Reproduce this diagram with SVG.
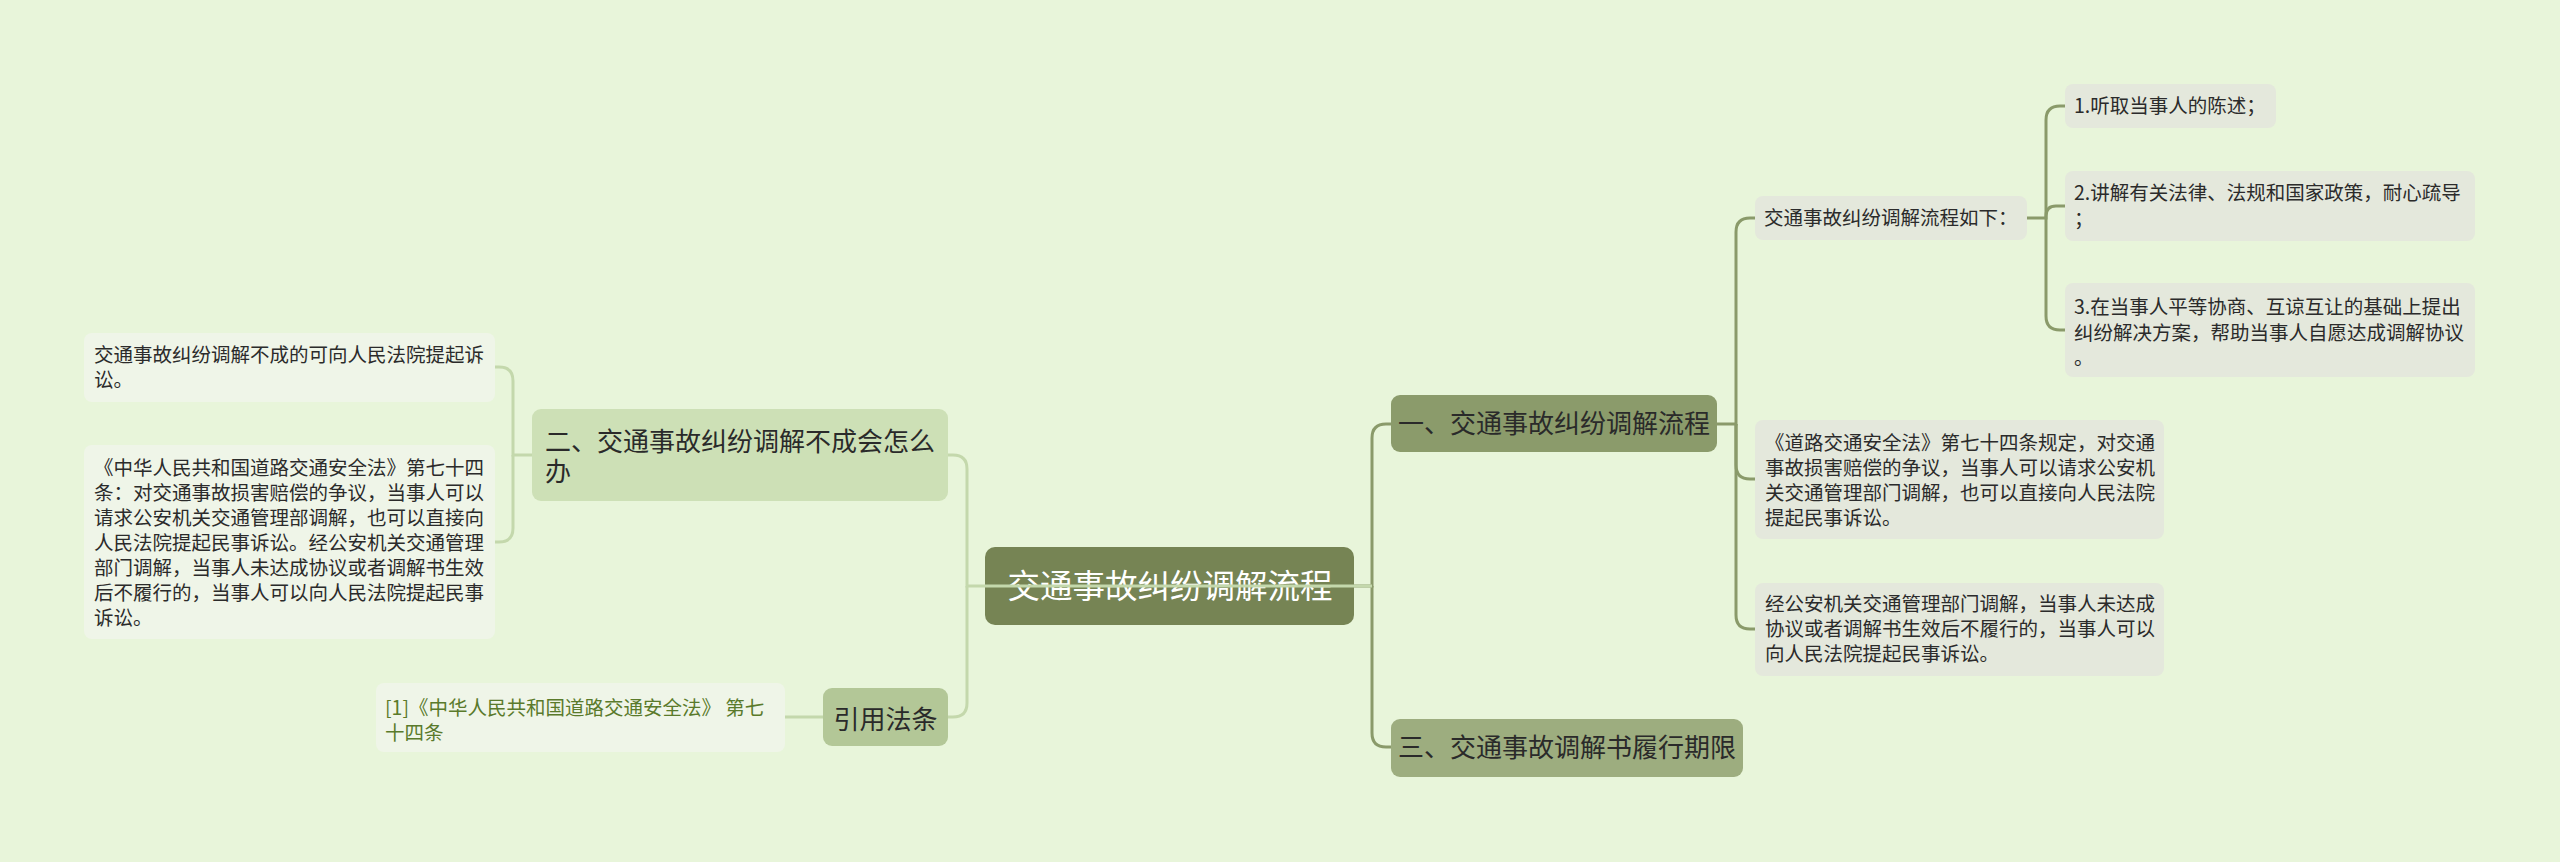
<svg xmlns="http://www.w3.org/2000/svg" width="2560" height="862" viewBox="0 0 2560 862">
<style>
text{font-family:"Noto Sans CJK SC","Noto Sans",sans-serif;}
.leaf{font-size:19.5px;fill:#2b2b2b;}
.l1{font-size:26px;fill:#2a2a2a;}
.rl{fill:#e4e8dc;}
.ll{fill:#eff5e8;}
.cd{fill:none;stroke:#8a9a6a;stroke-width:3;}
.cl{fill:none;stroke:#c4d8ac;stroke-width:3;}
</style>
<rect width="2560" height="862" fill="#e8f5da"/>
<g id="root">
<rect x="985" y="547" width="369" height="78" rx="10" fill="#768454"/>
<text x="1170" y="598" font-size="32.5" fill="#ffffff" text-anchor="middle">交通事故纠纷调解流程</text>
</g>
<g id="n1">
<rect x="1391" y="395" width="326" height="57" rx="9" fill="#8b9b6b"/>
<text class="l1" x="1554" y="433" text-anchor="middle">一、交通事故纠纷调解流程</text>
</g>
<g id="n3">
<rect x="1391" y="719" width="352" height="58" rx="9" fill="#9dad7f"/>
<text class="l1" x="1567" y="757" text-anchor="middle">三、交通事故调解书履行期限</text>
</g>
<g id="n2">
<rect x="532" y="409" width="416" height="92" rx="9" fill="#cde0b6"/>
<text class="l1" x="545" y="451">二、交通事故纠纷调解不成会怎么</text>
<text class="l1" x="545" y="481">办</text>
</g>
<g id="n4">
<rect x="823" y="688" width="125" height="58" rx="9" fill="#b3c797"/>
<text class="l1" x="885.5" y="729" text-anchor="middle">引用法条</text>
</g>
<g id="n1a">
<rect class="rl" x="1755" y="196" width="272" height="44" rx="8"/>
<text class="leaf" x="1764" y="225">交通事故纠纷调解流程如下：</text>
</g>
<g id="n1a1">
<rect class="rl" x="2065" y="84" width="211" height="44" rx="8"/>
<text class="leaf" x="2074" y="113">1.听取当事人的陈述；</text>
</g>
<g id="n1a2">
<rect class="rl" x="2065" y="171" width="410" height="70" rx="8"/>
<text class="leaf" x="2074" y="200">2.讲解有关法律、法规和国家政策，耐心疏导</text>
<text class="leaf" x="2074" y="226">；</text>
</g>
<g id="n1a3">
<rect class="rl" x="2065" y="283" width="410" height="94" rx="8"/>
<text class="leaf" x="2074" y="314">3.在当事人平等协商、互谅互让的基础上提出</text>
<text class="leaf" x="2074" y="339.5">纠纷解决方案，帮助当事人自愿达成调解协议</text>
<text class="leaf" x="2074" y="365">。</text>
</g>
<g id="n1b">
<rect class="rl" x="1755" y="420" width="409" height="119" rx="8"/>
<text class="leaf" x="1765" y="450">《道路交通安全法》第七十四条规定，对交通</text>
<text class="leaf" x="1765" y="475">事故损害赔偿的争议，当事人可以请求公安机</text>
<text class="leaf" x="1765" y="500">关交通管理部门调解，也可以直接向人民法院</text>
<text class="leaf" x="1765" y="525">提起民事诉讼。</text>
</g>
<g id="n1c">
<rect class="rl" x="1755" y="583" width="409" height="93" rx="8"/>
<text class="leaf" x="1765" y="611">经公安机关交通管理部门调解，当事人未达成</text>
<text class="leaf" x="1765" y="636">协议或者调解书生效后不履行的，当事人可以</text>
<text class="leaf" x="1765" y="661">向人民法院提起民事诉讼。</text>
</g>
<g id="n2a">
<rect class="ll" x="84" y="333" width="411" height="69" rx="8"/>
<text class="leaf" x="94" y="362">交通事故纠纷调解不成的可向人民法院提起诉</text>
<text class="leaf" x="94" y="387">讼。</text>
</g>
<g id="n2b">
<rect class="ll" x="84" y="445" width="411" height="194" rx="8"/>
<text class="leaf" x="94" y="475">《中华人民共和国道路交通安全法》第七十四</text>
<text class="leaf" x="94" y="500">条：对交通事故损害赔偿的争议，当事人可以</text>
<text class="leaf" x="94" y="525">请求公安机关交通管理部调解，也可以直接向</text>
<text class="leaf" x="94" y="550">人民法院提起民事诉讼。经公安机关交通管理</text>
<text class="leaf" x="94" y="575">部门调解，当事人未达成协议或者调解书生效</text>
<text class="leaf" x="94" y="600">后不履行的，当事人可以向人民法院提起民事</text>
<text class="leaf" x="94" y="625">诉讼。</text>
</g>
<g id="n4a">
<rect class="ll" x="376" y="683" width="409" height="69" rx="8"/>
<text class="leaf" x="385" y="715" fill="#5a7a2b" style="fill:#5a7a2b">[1]《中华人民共和国道路交通安全法》 第七</text>
<text class="leaf" x="385" y="740" style="fill:#5a7a2b">十四条</text>
</g>
<g id="connectors">
<path class="cd" d="M1354,586 H1372 V438 Q1372,424 1386,424 H1391"/>
<path class="cd" d="M1372,586 V733 Q1372,747 1386,747 H1391"/>
<path class="cd" d="M1717,424 H1736 V232 Q1736,218 1750,218 H1755"/>
<path class="cd" d="M1736,424 V465 Q1736,479 1750,479 H1755"/>
<path class="cd" d="M1736,424 V615 Q1736,629 1750,629 H1755"/>
<path class="cd" d="M2027,218 H2046 V120 Q2046,106 2060,106 H2065"/>
<path class="cd" d="M2046,218 V216 Q2046,206 2056,206 H2065"/>
<path class="cd" d="M2046,218 V316 Q2046,330 2060,330 H2065"/>
<path class="cl" d="M1372,586 H967 V469 Q967,455 953,455 H948"/>
<path class="cl" d="M967,586 V703 Q967,717 953,717 H948"/>
<path class="cl" d="M532,455 H513 V381 Q513,367 499,367 H495"/>
<path class="cl" d="M513,455 V528 Q513,542 499,542 H495"/>
<path class="cl" d="M823,717 H785"/>
</g>
</svg>
